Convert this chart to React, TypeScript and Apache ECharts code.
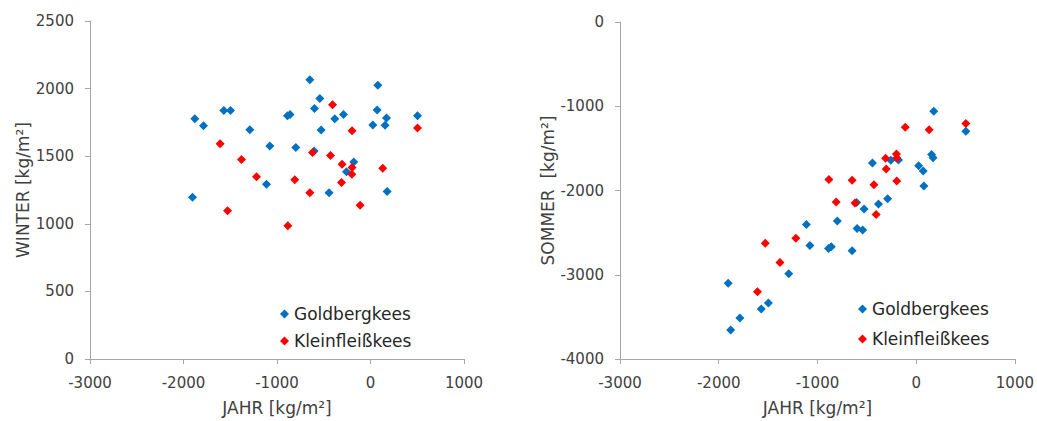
import React, { useEffect, useRef } from "react";
import * as echarts from "echarts";

// Goldbergkees
const goldJahr = [-649, -542, -599, -289, -382, -528, -1569, -1497, -1879, -1786, -1291, -888, -860, -1077, -799, -603, -257, -1112, -1904, -443, 78, 71, 171, 503, 25, 156, -179, 178];
const goldWinter = [2066, 1926, 1853, 1809, 1777, 1693, 1838, 1838, 1777, 1726, 1696, 1800, 1809, 1576, 1564, 1539, 1385, 1292, 1196, 1230, 2024, 1841, 1782, 1799, 1730, 1728, 1458, 1238];
const goldSommer = [-2715, -2468, -2452, -2098, -2159, -2221, -3407, -3335, -3656, -3512, -2987, -2688, -2669, -2653, -2363, -2142, -1642, -2404, -3100, -1673, -1946, -1770, -1611, -1296, -1705, -1572, -1637, -1060];

// Kleinfleißkees
const kleinJahr = [-406, -1608, -1380, -620, -428, -304, -1219, -810, -310, -649, -1529, -884, -197, 503, -197, -200, 131, -111];
const kleinWinter = [1880, 1593, 1476, 1527, 1505, 1441, 1348, 1326, 1306, 1230, 1096, 985, 1689, 1708, 1417, 1366, 1410, 1137];
const kleinSommer = [-2286, -3201, -2856, -2147, -1933, -1745, -2567, -2136, -1616, -1879, -2625, -1869, -1886, -1205, -1614, -1566, -1279, -1248];

const seriesNames = ["Goldbergkees", "Kleinfleißkees"];
const xTicks = { min: -3000, max: 1000, interval: 1000 };
const winterTicks = { min: 0, max: 2500, interval: 500 };
const sommerTicks = { min: -4000, max: 0, interval: 1000 };

const FONT = "DejaVu Sans";
const TEXT = "#404040";
const AXIS = "#a6a6a6";
const BLUE = "#0070C0";
const RED = "#FF0000";

const zip = (a: number[], b: number[]) => a.map((v, i) => [v, b[i]]);

export default function App() {
  const ref = useRef<HTMLDivElement>(null);
  useEffect(() => {
    if (!ref.current) return;
    const chart = echarts.init(ref.current, undefined, { renderer: "svg" });
    const axisCommon = {
      axisLine: { show: true, onZero: false, lineStyle: { color: AXIS, width: 1 } },
      axisTick: { show: true, inside: false, length: 5, lineStyle: { color: AXIS } },
      splitLine: { show: false },
      axisLabel: { color: TEXT, fontSize: 15, fontFamily: FONT, margin: 16, formatter: (v: number) => String(v) },
      nameTextStyle: { color: TEXT, fontSize: 17, fontFamily: FONT },
      nameLocation: "middle" as const,
    };
    const symbolSize = 9;
    const legendText = { color: "#262626", fontSize: 17, fontFamily: FONT, lineHeight: 18 };
    chart.setOption({
      animation: false,
      textStyle: { fontFamily: FONT },
      grid: [
        { left: 90, top: 21, width: 374, height: 339 },
        { left: 620, top: 22, width: 395, height: 339 },
      ],
      xAxis: [
        { ...axisCommon, type: "value", gridIndex: 0, ...xTicks, name: "JAHR [kg/m²]", nameGap: 40 },
        { ...axisCommon, type: "value", gridIndex: 1, ...xTicks, name: "JAHR [kg/m²]", nameGap: 40 },
      ],
      yAxis: [
        { ...axisCommon, type: "value", gridIndex: 0, ...winterTicks, name: "WINTER [kg/m²]", nameGap: 59 },
        { ...axisCommon, type: "value", gridIndex: 1, ...sommerTicks, name: "SOMMER  [kg/m²]", nameGap: 60 },
      ],
      legend: [
        {
          left: 275, top: 300, orient: "vertical", itemGap: 9, icon: "diamond",
          itemWidth: 9, itemHeight: 9, data: seriesNames, textStyle: legendText,
        },
        {
          left: 853, top: 295, orient: "vertical", itemGap: 12, icon: "diamond",
          itemWidth: 9, itemHeight: 9, data: seriesNames, textStyle: legendText,
        },
      ],
      series: [
        { name: seriesNames[0], type: "scatter", xAxisIndex: 0, yAxisIndex: 0, symbol: "diamond", symbolSize, itemStyle: { color: BLUE, opacity: 1 }, data: zip(goldJahr, goldWinter) },
        { name: seriesNames[1], type: "scatter", xAxisIndex: 0, yAxisIndex: 0, symbol: "diamond", symbolSize, itemStyle: { color: RED, opacity: 1 }, data: zip(kleinJahr, kleinWinter) },
        { name: seriesNames[0], type: "scatter", xAxisIndex: 1, yAxisIndex: 1, symbol: "diamond", symbolSize, itemStyle: { color: BLUE, opacity: 1 }, data: zip(goldJahr, goldSommer) },
        { name: seriesNames[1], type: "scatter", xAxisIndex: 1, yAxisIndex: 1, symbol: "diamond", symbolSize, itemStyle: { color: RED, opacity: 1 }, data: zip(kleinJahr, kleinSommer) },
      ],
    });
    return () => chart.dispose();
  }, []);
  return (
    <div
      ref={ref}
      style={{ position: "fixed", left: 0, top: 0, width: 1037, height: 421, background: "#fff" }}
    />
  );
}
